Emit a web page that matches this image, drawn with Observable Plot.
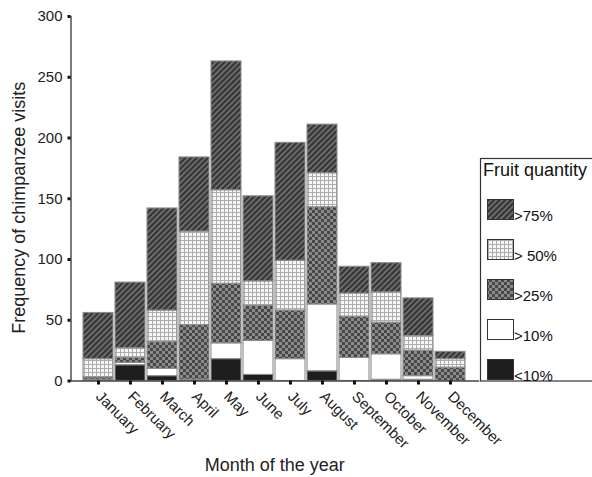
<!DOCTYPE html>
<html>
<head>
<meta charset="utf-8">
<script src="https://cdn.jsdelivr.net/npm/d3@7"></script>
<script src="https://cdn.jsdelivr.net/npm/@observablehq/plot@0.6"></script>
<style>
  html, body { margin: 0; padding: 0; background: #fff; }
  #chart { width: 592px; height: 477px; }
</style>
</head>
<body>
<div id="chart"></div>
<script>
// Monthly chimpanzee visits, split by the fruit quantity on the tree
const months = ["January", "February", "March", "April", "May", "June",
  "July", "August", "September", "October", "November", "December"];

// Fruit-quantity classes, stacked from the bottom of each bar upwards
const categories = ["<10%", ">10%", ">25%", "> 50%", ">75%"];

const lt10 = [1, 13, 4, 1, 18, 5, 0, 8, 0, 1, 1, 0];
const gt10 = [0, 2, 6, 0, 13, 28, 18, 55, 19, 21, 3, 0];
const gt25 = [2, 4, 22, 45, 49, 29, 40, 80, 34, 26, 21, 11];
const gt50 = [15, 8, 26, 77, 77, 20, 41, 28, 19, 25, 12, 7];
const gt75 = [38, 54, 84, 61, 106, 70, 97, 40, 22, 24, 31, 6];

const yTicks = [0, 50, 100, 150, 200, 250, 300];

const legendTitle = "Fruit quantity";
const xTitle = "Month of the year";
const yTitle = "Frequency of chimpanzee visits";

// Fill for each class: patterns defined in <defs> below
const fills = ["#1e1e1e", "#ffffff", "url(#checker25)", "url(#grid50)", "url(#hatch75)"];

const series = [lt10, gt10, gt25, gt50, gt75];
const rows = [];
series.forEach((vals, ci) => {
  vals.forEach((v, mi) => {
    rows.push({month: months[mi], category: categories[ci], value: v});
  });
});
const visible = rows.filter(d => d.value > 0);

const font = "'Liberation Sans', Arial, Helvetica, sans-serif";

const svg = Plot.plot({
  width: 592,
  height: 477,
  marginLeft: 70.5,
  marginRight: 114,
  marginTop: 16,
  marginBottom: 96.5,
  style: {fontFamily: font, fontSize: "15px", color: "#222", background: "#fff"},
  x: {domain: months, range: [80, 467.7], paddingInner: 0.06, paddingOuter: 0},
  y: {domain: [0, 300]},
  color: {domain: categories, range: fills},
  marks: [
    Plot.barY(visible, {
      x: "month", y: "value", fill: "category",
      order: categories,
      stroke: "#8c8c8c", strokeWidth: 1.1
    }),
    Plot.frame({anchor: "left", stroke: "#333", strokeWidth: 1.3}),
    Plot.frame({anchor: "bottom", stroke: "#444", strokeWidth: 1.3}),
    Plot.axisY({ticks: yTicks, tickSize: 3, strokeWidth: 3, tickPadding: 5.5,
      fontSize: 15, label: null, stroke: "#111"}),
    Plot.axisX({tickSize: 4, strokeWidth: 3, tickRotate: 45, tickPadding: 9,
      fontSize: 15, label: null, stroke: "#111"}),
    Plot.text([xTitle], {frameAnchor: "bottom", dy: 90, fontSize: 18, fill: "#222"}),
    Plot.text([yTitle], {frameAnchor: "left", textAnchor: "middle", rotate: -90,
      dx: -52, dy: 9, fontSize: 18, fill: "#222"})
  ]
});

// Pattern definitions for the shaded classes
const root = d3.select(svg);
const defs = root.insert("defs", ":first-child");

const hatch = defs.append("pattern")
  .attr("id", "hatch75").attr("patternUnits", "userSpaceOnUse")
  .attr("width", 4).attr("height", 4)
  .attr("patternTransform", "rotate(45)");
hatch.append("rect").attr("width", 4).attr("height", 4).attr("fill", "#363636");
hatch.append("rect").attr("x", 0).attr("width", 1.4).attr("height", 4).attr("fill", "#7e7e7e");

const grid = defs.append("pattern")
  .attr("id", "grid50").attr("patternUnits", "userSpaceOnUse")
  .attr("width", 4).attr("height", 4);
grid.append("rect").attr("width", 4).attr("height", 4).attr("fill", "#f6f6f6");
grid.append("rect").attr("width", 4).attr("height", 1).attr("fill", "#adadad");
grid.append("rect").attr("width", 1).attr("height", 4).attr("fill", "#adadad");

const checker = defs.append("pattern")
  .attr("id", "checker25").attr("patternUnits", "userSpaceOnUse")
  .attr("width", 6).attr("height", 6);
checker.append("rect").attr("width", 6).attr("height", 6).attr("fill", "#8a8a8a");
checker.append("rect").attr("width", 3).attr("height", 3).attr("fill", "#474747");
checker.append("rect").attr("x", 3).attr("y", 3).attr("width", 3).attr("height", 3).attr("fill", "#474747");

// Legend box on the right, listing the classes from top to bottom
const legend = root.append("g")
  .attr("font-family", font).attr("fill", "#111").attr("text-anchor", "start");
legend.append("rect")
  .attr("x", 480.5).attr("y", 158.5).attr("width", 130).attr("height", 222.5)
  .attr("fill", "#fff").attr("stroke", "#333").attr("stroke-width", 1.2);
legend.append("text")
  .attr("x", 483).attr("y", 176).attr("font-size", 18).text(legendTitle);

const legendOrder = categories.slice().reverse();
legendOrder.forEach((cat, i) => {
  const y0 = 199.5 + i * 40;
  legend.append("rect")
    .attr("x", 487.5).attr("y", y0).attr("width", 26).attr("height", 20)
    .attr("fill", fills[categories.indexOf(cat)])
    .attr("stroke", "#333").attr("stroke-width", 1);
  legend.append("text")
    .attr("x", 514).attr("y", y0 + 21).attr("font-size", 15).text(cat);
});

document.getElementById("chart").appendChild(svg);
</script>
</body>
</html>
